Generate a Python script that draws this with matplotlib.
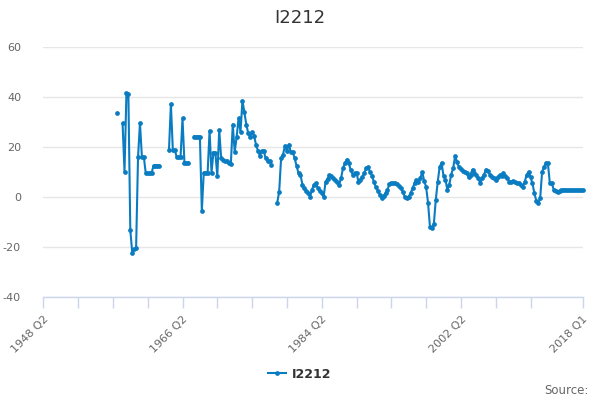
import numpy as np
import matplotlib
matplotlib.use("Agg")
import matplotlib.pyplot as plt

series_name = "I2212"
first_year, first_quarter = 1948, 2
n_quarters = 280
data_start = 38  # index of first stored value (1957 Q4)

values = [
    33.5, None, None, 29.5, 10.2, 41.5, 41.2, -13.3, -22.2, -20.8,   # 38-47
    -20.5, 16, 29.5, 16, 16, 9.5, 9.5, 9.5, 9.5, 12.6,               # 48-57
    12.6, 12.6, 12.6, None, None, None, None, 18.8, 37.2, 18.8,      # 58-67
    18.8, 16, 16, 16, 31.5, 13.8, 13.8, 13.8, None, None,            # 68-77
    24.2, 24.2, 24.2, 24.2, -5.5, 9.8, 9.8, 9.8, 26.5, 9.8,          # 78-87
    17.8, 17.8, 8.4, 26.8, 15.5, 15, 14.5, 14.4, 13.5, 13.2,         # 88-97
    29, 18, 24, 31.5, 26, 38.5, 34, 29, 25.5, 24,                    # 98-107
    26, 24.5, 21, 18.5, 16.5, 18.5, 18.5, 15.5, 14.5, 14.5,          # 108-117
    13, None, None, -2.3, 2.1, 15.5, 17, 20.5, 18.5, 21,             # 118-127
    18, 18, 15.5, 12.5, 9.5, 9, 5, 3.5, 2.5, 1.5,                    # 128-137
    0.1, 3, 5, 5.5, 3.5, 2.3, 1.5, 0, 6.1, 7.3,                      # 138-147
    8.8, 8.3, 7.7, 7, 6, 4.8, 7.5, 11.5, 13.5, 15,                   # 148-157
    13.5, 10.8, 9, 9.5, 9.8, 6.1, 7, 8, 9.5, 11.5,                   # 158-167
    11.9, 10, 8.5, 6, 4, 2.5, 1, -0.3, 0.5, 1.5,                     # 168-177
    2.8, 5.2, 5.6, 5.5, 5.6, 5.2, 4.5, 3.5, 2, 0,                    # 178-187
    -0.3, 0.2, 1.5, 3.5, 5.5, 6.8, 6.1, 7.5, 10, 6.5,                # 188-197
    4, -2.3, -12, -12.5, -10.8, -1.2, 6, 12, 13.7, 8.5,              # 198-207
    7, 2.8, 5, 9, 11.5, 16.4, 14, 12, 11.2, 10.5,                    # 208-217
    10, 9.5, 8, 9, 11, 9.5, 9, 7.5, 5.5, 7.5,                        # 218-227
    9, 11, 10.5, 9, 8, 7.5, 6.8, 8, 8.8, 8.5,                        # 228-237
    9.5, 8.5, 7.5, 6.1, 6.1, 6.5, 6.1, 5.7, 5.5, 5,                  # 238-247
    4.2, 6, 8.8, 10.1, 8, 5.5, 1.5, -1.5, -2.5, -0.5,                # 248-257
    10, 12, 13.7, 13.5, 5.5, 5.5, 3, 2.3, 2.2, 2.5,                  # 258-267
    2.8, 2.9, 2.9, 2.8, 2.8, 2.8, 2.8, 2.8, 2.8, 2.8, 2.8, 2.8,      # 268-279
]

y_ticks = [-40, -20, 0, 20, 40, 60]

# quarter category labels
categories = []
for i in range(n_quarters):
    q = first_quarter - 1 + i
    categories.append(f"{first_year + q // 4} Q{q % 4 + 1}")

tick_positions = list(range(0, 253, 18)) + [n_quarters - 1]
label_positions = [0, 72, 144, 216, n_quarters - 1]

x = np.arange(data_start, data_start + len(values))
y = np.array([np.nan if v is None else v for v in values], dtype=float)

color = "#0a7cc1"

fig = plt.figure(figsize=(6, 4), dpi=100)
ax = fig.add_axes([43.3 / 600, 1 - 297 / 400, (582.7 - 43.3) / 600, 250 / 400])

ax.plot(x, y, color=color, lw=1.5, marker="o", markersize=2.4, label=series_name,
        zorder=3, clip_on=False)

ax.set_xlim(0, n_quarters - 1)
ax.set_ylim(-40, 60)

ax.set_yticks(y_ticks)
ax.set_yticklabels([str(v) for v in y_ticks])
ax.yaxis.grid(True, color="#e6e6e6", lw=1)
ax.set_axisbelow(True)
ax.tick_params(axis="y", length=0, pad=16, labelsize=8, labelcolor="#666666")

ax.set_xticks(tick_positions)
ax.set_xticklabels([categories[p] if p in label_positions else "" for p in tick_positions],
                   rotation=45, ha="right", va="top", rotation_mode="anchor")
ax.tick_params(axis="x", length=8, width=1, color="#ccd6eb", pad=4, labelsize=8,
               labelcolor="#666666")

for s in ["top", "right", "left"]:
    ax.spines[s].set_visible(False)
ax.spines["bottom"].set_color("#ccd6eb")
ax.spines["bottom"].set_linewidth(1)

fig.text(0.5, 1 - 18 / 400, series_name, ha="center", va="center", fontsize=13,
         color="#333333")

leg = fig.legend(loc="center", bbox_to_anchor=(0.5, 1 - 374 / 400), frameon=False,
                 handlelength=1.4, handletextpad=0.5, prop={"weight": "bold", "size": 9})
for t in leg.get_texts():
    t.set_color("#333333")

fig.text(589 / 600, 1 - 391 / 400, "Source:", ha="right", va="center", fontsize=8.5,
         color="#666666")

fig.savefig("out.png", dpi=100)
